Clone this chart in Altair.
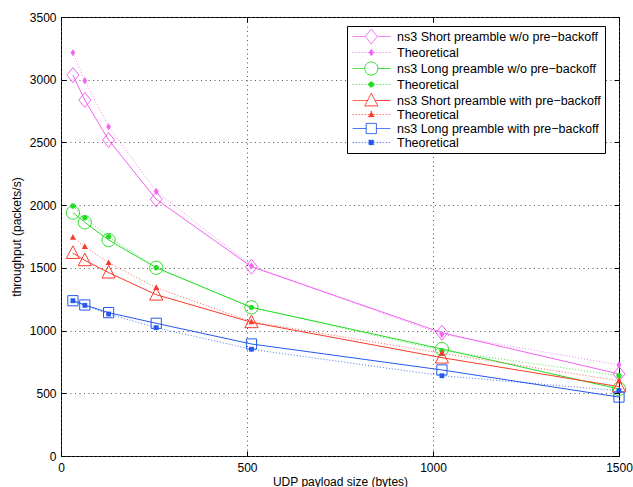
import altair as alt
import pandas as pd

# ---------------- data ----------------
payload = [32, 64, 128, 256, 512, 1024, 1500]

sim_short_nobo = [3037, 2838, 2519, 2047, 1509, 983, 654]
theo_short_nobo = [3215, 2992, 2625, 2110, 1515, 970, 726]
sim_long_nobo = [1940, 1863, 1722, 1501, 1185, 853, 534]
theo_long_nobo = [1993, 1900, 1748, 1501, 1185, 840, 640]
sim_short_bo = [1618, 1560, 1462, 1286, 1066, 784, 553]
theo_short_bo = [1743, 1669, 1541, 1342, 1070, 819, 600]
sim_long_bo = [1238, 1204, 1143, 1058, 893, 686, 470]
theo_long_bo = [1238, 1201, 1132, 1023, 851, 640, 521]

series_names = [
    "ns3 Short preamble w/o pre\u2212backoff",
    "Theoretical 1",
    "ns3 Long preamble w/o pre\u2212backoff",
    "Theoretical 2",
    "ns3 Short preamble with pre\u2212backoff",
    "Theoretical 3",
    "ns3 Long preamble with pre\u2212backoff",
    "Theoretical 4",
]
series_values = [sim_short_nobo, theo_short_nobo, sim_long_nobo, theo_long_nobo,
                 sim_short_bo, theo_short_bo, sim_long_bo, theo_long_bo]

x_ticks = [0, 500, 1000, 1500]
y_ticks = [0, 500, 1000, 1500, 2000, 2500, 3000, 3500]

# ---------------- styles ----------------
PINK, GREEN, RED, BLUE = "#F262F2", "#25DD25", "#F93A2A", "#2458EE"
colors = [PINK, PINK, GREEN, GREEN, RED, RED, BLUE, BLUE]
is_theo = [False, True, False, True, False, True, False, True]

# plot marker paths (unit = sqrt(size)/2 = 6 px)
P_DIAMOND = "M0,-1.25L1,0L0,1.25L-1,0Z"
P_CIRCLE = "M-1.1,0A1.1,1.1 0 1,0 1.1,0A1.1,1.1 0 1,0 -1.1,0Z"
P_TRI = "M0,-1.2L1.1,0.9L-1.1,0.9Z"
P_SQUARE = "M-0.85,-0.85H0.85V0.85H-0.85Z"
p_diamond = "M0,-0.6L0.4,0L0,0.6L-0.4,0Z"
p_circle = "M-0.45,0A0.45,0.45 0 1,0 0.45,0A0.45,0.45 0 1,0 -0.45,0Z"
p_tri = "M0,-0.55L0.5,0.4L-0.5,0.4Z"
p_square = "M-0.4,-0.4H0.4V0.4H-0.4Z"
plot_shapes = [P_DIAMOND, p_diamond, P_CIRCLE, p_circle, P_TRI, p_tri, P_SQUARE, p_square]

# legend symbols: line + marker, marker centred at x=2.3 units
L_DIAMOND = "M-0.8,0H1.3M3.3,0H5.5M2.3,-1.25L3.3,0L2.3,1.25L1.3,0Z"
L_CIRCLE = "M-0.8,0H1.2M3.4,0H5.5M1.2,0A1.1,1.1 0 1,0 3.4,0A1.1,1.1 0 1,0 1.2,0Z"
L_TRI = "M-0.8,0H1.67M2.93,0H5.5M2.3,-1.2L3.4,0.9L1.2,0.9Z"
L_SQUARE = "M-0.8,0H1.45M3.15,0H5.5M1.45,-0.85H3.15V0.85H1.45Z"
l_diamond = "M-0.8,0H5.5M2.3,-0.6L2.7,0L2.3,0.6L1.9,0Z"
l_circle = "M-0.8,0H5.5M1.85,0A0.45,0.45 0 1,0 2.75,0A0.45,0.45 0 1,0 1.85,0Z"
l_tri = "M-0.8,0H5.5M2.3,-0.55L2.8,0.4L1.8,0.4Z"
l_square = "M-0.8,0H5.5M1.9,-0.4H2.7V0.4H1.9Z"
legend_shapes = [L_DIAMOND, l_diamond, L_CIRCLE, l_circle, L_TRI, l_tri, L_SQUARE, l_square]
legend_fills = [("transparent" if not t else c) for c, t in zip(colors, is_theo)]
legend_dashes = [([1, 2] if t else [1, 0]) for t in is_theo]

FONT = "Liberation Sans"

rows = []
for name, vals in zip(series_names, series_values):
    for p, v in zip(payload, vals):
        rows.append({"payload": p, "throughput": v, "series": name})
df = pd.DataFrame(rows)

xscale = alt.Scale(domain=[0, 1500], nice=False, zero=False)
yscale = alt.Scale(domain=[0, 3500], nice=False, zero=False)

base = alt.Chart(df)

main_x_axis = alt.Axis(orient="bottom", offset=-5, tickSize=5, tickColor="black",
                       values=x_ticks, format="d", grid=True, gridColor="#555555",
                       gridDash=[1, 3.5], gridWidth=1, domain=False, labelFont=FONT,
                       labelFontSize=12, labelColor="black", labelPadding=6,
                       labelFlush=False, labelOverlap=False,
                       title="UDP payload size (bytes)", titleFont=FONT, titleFontSize=12,
                       titleFontWeight="normal", titleColor="black", titlePadding=3)
main_y_axis = alt.Axis(orient="left", offset=-5, tickSize=5, tickColor="black",
                       values=y_ticks, format="d", grid=True, gridColor="#555555",
                       gridDash=[1, 3.5], gridWidth=1, domain=False, labelFont=FONT,
                       labelFontSize=12, labelColor="black", labelPadding=5,
                       labelOverlap=False, title="throughput (packets/s)", titleFont=FONT,
                       titleFontSize=12, titleFontWeight="normal", titleColor="black",
                       titlePadding=6)
top_axis = alt.Axis(orient="top", offset=-5, tickSize=5, tickColor="black",
                    values=x_ticks, grid=False, domain=False, labels=False, title=None)
right_axis = alt.Axis(orient="right", offset=-5, tickSize=5, tickColor="black",
                      values=y_ticks, grid=False, domain=False, labels=False, title=None)

layers = []
for i, (name, c, t) in enumerate(zip(series_names, colors, is_theo)):
    xa = main_x_axis if i == 0 else None
    ya = main_y_axis if i == 0 else None
    line_kwargs = dict(color=c, strokeWidth=1)
    if t:
        line_kwargs["strokeDash"] = [1, 2]
        line_kwargs["opacity"] = 0.8
    line = base.transform_filter(alt.datum.series == name).mark_line(**line_kwargs).encode(
        x=alt.X("payload:Q", scale=xscale, axis=xa),
        y=alt.Y("throughput:Q", scale=yscale, axis=ya),
        order="payload:Q",
    )
    layers.append(line)
for name, c, t, shp in zip(series_names, colors, is_theo, plot_shapes):
    pts = base.transform_filter(alt.datum.series == name).mark_point(
        shape=shp, size=144, filled=t, color=c, strokeWidth=1, opacity=1
    ).encode(
        x=alt.X("payload:Q", scale=xscale, axis=None),
        y=alt.Y("throughput:Q", scale=yscale, axis=None),
    )
    layers.append(pts)

leg = alt.Legend(
    title=None, orient="none", legendX=286, legendY=9,
    labelExpr="indexof(datum.label, 'Theoretical') == 0 ? 'Theoretical' : datum.label",
    symbolSize=144, symbolStrokeWidth=1, symbolOpacity=1,
    labelFont=FONT, labelFontSize=12.5, labelColor="black", labelLimit=400,
    labelOffset=33, padding=4, rowPadding=0,
    strokeColor="black", fillColor="white", cornerRadius=0,
)
legend_layer = base.mark_point(opacity=0, size=144).encode(
    x=alt.X("payload:Q", scale=xscale, axis=top_axis),
    y=alt.Y("throughput:Q", scale=yscale, axis=right_axis),
    shape=alt.Shape("series:N", scale=alt.Scale(domain=series_names, range=legend_shapes), legend=leg),
    stroke=alt.Stroke("series:N", scale=alt.Scale(domain=series_names, range=colors), legend=leg),
    fill=alt.Fill("series:N", scale=alt.Scale(domain=series_names, range=legend_fills), legend=leg),
    strokeDash=alt.StrokeDash("series:N", scale=alt.Scale(domain=series_names, range=legend_dashes), legend=leg),
)
layers.append(legend_layer)

chart = alt.layer(*layers).resolve_axis(x="independent", y="independent").properties(
    width=558, height=439,
    autosize=alt.AutoSizeParams(type="none"),
    padding={"left": 61, "top": 17, "right": 14, "bottom": 31},
    background="white",
).configure_view(stroke="black", strokeWidth=1)

chart.save("out.html", embed_options={"renderer": "svg", "actions": False})
